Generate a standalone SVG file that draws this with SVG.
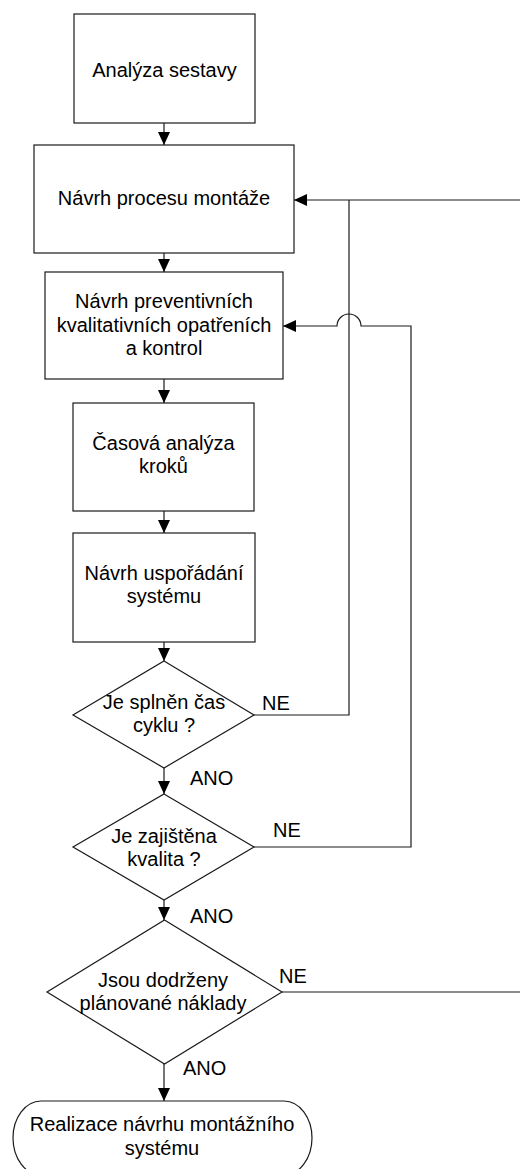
<svg xmlns="http://www.w3.org/2000/svg" width="520" height="1169" viewBox="0 0 520 1169">
  <style>
    .shape { fill: #ffffff; stroke: #1a1a1a; stroke-width: 1.2; }
    .edge { fill: none; stroke: #1a1a1a; stroke-width: 1.2; }
    text { font-family: "Liberation Sans", Arial, sans-serif; font-size: 20px; fill: #000000; }
    .c { text-anchor: middle; }
  </style>
  <defs>
    <marker id="arrow" markerUnits="userSpaceOnUse" markerWidth="14" markerHeight="13" refX="13" refY="6" orient="auto">
      <path d="M0,0 L13,6 L0,12 z" fill="#000000"/>
    </marker>
  </defs>

  <rect width="520" height="1169" fill="#ffffff"/>

  <!-- connectors -->
  <g id="connectors">
    <line class="edge" x1="164" y1="123" x2="164" y2="145" marker-end="url(#arrow)"/>
    <line class="edge" x1="164" y1="253" x2="164" y2="272" marker-end="url(#arrow)"/>
    <line class="edge" x1="164" y1="379" x2="164" y2="403" marker-end="url(#arrow)"/>
    <line class="edge" x1="164" y1="511" x2="164" y2="533" marker-end="url(#arrow)"/>
    <line class="edge" x1="164" y1="642" x2="164" y2="661" marker-end="url(#arrow)"/>
    <line class="edge" x1="164" y1="768" x2="164" y2="794" marker-end="url(#arrow)"/>
    <line class="edge" x1="164" y1="900" x2="164" y2="920" marker-end="url(#arrow)"/>
    <line class="edge" x1="164" y1="1064" x2="164" y2="1101" marker-end="url(#arrow)"/>

    <!-- time-cycle loop back to assembly process design -->
    <polyline class="edge" points="254,715 349,715 349,200"/>
    <line class="edge" x1="520" y1="200" x2="294" y2="200" marker-end="url(#arrow)"/>

    <!-- quality loop back to preventive measures, hopping over the vertical line -->
    <path class="edge" d="M254,847 H411 V326 H361 A12,12 0 0 0 337,326 H283" marker-end="url(#arrow)"/>

    <!-- cost check leaves the sheet to the right -->
    <line class="edge" x1="282" y1="992" x2="520" y2="992"/>

    <text x="262" y="710">NE</text>
    <text x="190" y="785">ANO</text>
    <text x="273" y="837">NE</text>
    <text x="190" y="923">ANO</text>
    <text x="279" y="983">NE</text>
    <text x="183" y="1075">ANO</text>
  </g>

  <g id="n1">
    <rect class="shape" x="74" y="14" width="181" height="109"/>
    <text class="c" x="164.5" y="77">Analýza sestavy</text>
  </g>

  <g id="n2">
    <rect class="shape" x="34" y="145" width="260" height="108"/>
    <text class="c" x="164" y="205">Návrh procesu montáže</text>
  </g>

  <g id="n3">
    <rect class="shape" x="45" y="272" width="238" height="107"/>
    <text class="c" x="164" y="308">Návrh preventivních</text>
    <text class="c" x="164" y="331.5">kvalitativních opatřeních</text>
    <text class="c" x="164" y="355">a kontrol</text>
  </g>

  <g id="n4">
    <rect class="shape" x="73" y="403" width="181" height="108"/>
    <text class="c" x="163.5" y="450">Časová analýza</text>
    <text class="c" x="163.5" y="473">kroků</text>
  </g>

  <g id="n5">
    <rect class="shape" x="73" y="533" width="182" height="109"/>
    <text class="c" x="164" y="580">Návrh uspořádání</text>
    <text class="c" x="164" y="603">systému</text>
  </g>

  <g id="d1">
    <polygon class="shape" points="164,661 254,715 164,768 73,715"/>
    <text class="c" x="164" y="709">Je splněn čas</text>
    <text class="c" x="164" y="732">cyklu ?</text>
  </g>

  <g id="d2">
    <polygon class="shape" points="164,794 254,847 164,900 73,847"/>
    <text class="c" x="164" y="843">Je zajištěna</text>
    <text class="c" x="164" y="866">kvalita ?</text>
  </g>

  <g id="d3">
    <polygon class="shape" points="164.5,920 282,992 164.5,1064 47,992"/>
    <text class="c" x="163" y="987">Jsou dodrženy</text>
    <text class="c" x="163" y="1010">plánované náklady</text>
  </g>

  <g id="end">
    <rect class="shape" x="13" y="1101" width="299" height="74" rx="28" ry="37"/>
    <text class="c" x="162" y="1131">Realizace návrhu montážního</text>
    <text class="c" x="162" y="1155">systému</text>
  </g>
</svg>
